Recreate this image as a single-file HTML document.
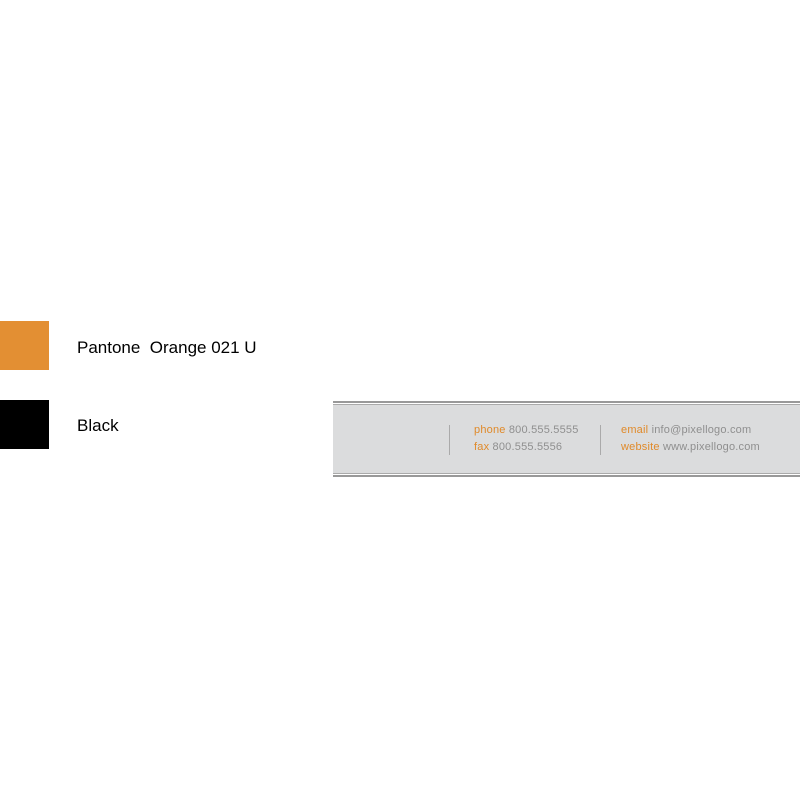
<!DOCTYPE html>
<html><head><style>
body{margin:0;width:800px;height:800px;background:#fff;position:relative;overflow:hidden;font-family:"Liberation Sans",sans-serif}
.a{position:absolute}
.o{color:#e08a2a}.g{color:#8f8f8f}
.t{position:absolute;font-size:11px;white-space:nowrap;letter-spacing:0.2px}
</style></head><body>
<div class="a" style="left:0;top:321px;width:49px;height:49px;background:#e38f33"></div>
<div class="a" style="left:0;top:400px;width:49px;height:49px;background:#000"></div>
<div class="a" style="left:77px;top:338px;font-size:17px;color:#000">Pantone&nbsp; Orange 021 U</div>
<div class="a" style="left:77px;top:416px;font-size:17px;color:#000">Black</div>
<div class="a" style="left:333px;top:401px;width:467px;height:2px;background:#999"></div>
<div class="a" style="left:333px;top:404px;width:467px;height:70px;background:#dbdcdd;border-top:1px solid #aaa;border-bottom:1px solid #aaa;box-sizing:border-box"></div>
<div class="a" style="left:333px;top:475px;width:467px;height:2px;background:#999"></div>
<div class="a" style="left:449px;top:425px;width:1px;height:30px;background:#aaa"></div>
<div class="a" style="left:600px;top:425px;width:1px;height:30px;background:#aaa"></div>
<div class="t" style="left:474px;top:424px"><span class="o">phone</span> <span class="g">800.555.5555</span></div>
<div class="t" style="left:474px;top:441px"><span class="o">fax</span> <span class="g">800.555.5556</span></div>
<div class="t" style="left:621px;top:424px"><span class="o">email</span> <span class="g">info@pixellogo.com</span></div>
<div class="t" style="left:621px;top:441px"><span class="o">website</span> <span class="g">www.pixellogo.com</span></div>
</body></html>
